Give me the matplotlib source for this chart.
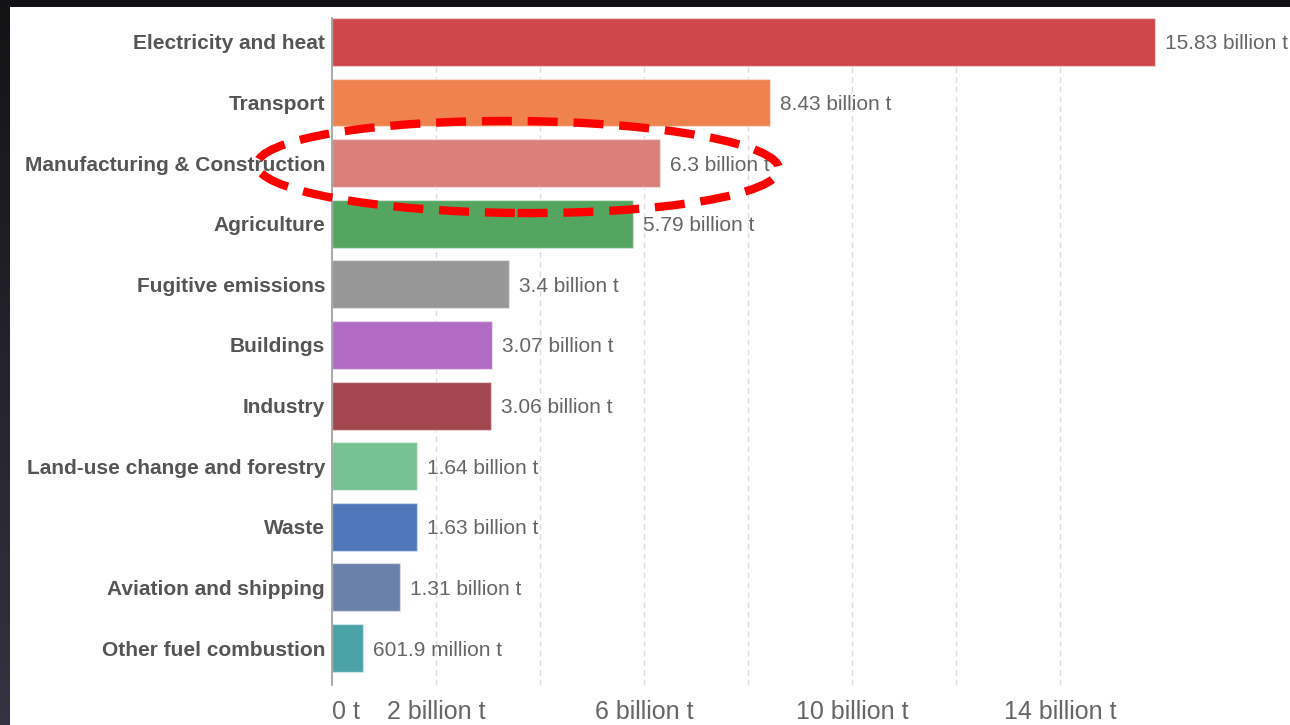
import matplotlib
matplotlib.use("Agg")
import matplotlib.pyplot as plt
import numpy as np
from matplotlib.patches import Ellipse
from matplotlib.colors import LinearSegmentedColormap
from matplotlib.transforms import offset_copy

plt.rcParams['font.family'] = ['Liberation Sans', 'DejaVu Sans']

categories = ["Electricity and heat", "Transport", "Manufacturing & Construction",
              "Agriculture", "Fugitive emissions", "Buildings", "Industry",
              "Land-use change and forestry", "Waste", "Aviation and shipping",
              "Other fuel combustion"]
values = [15.83, 8.43, 6.30, 5.79, 3.40, 3.07, 3.06, 1.64, 1.63, 1.31, 0.6019]
value_labels = ["15.83 billion t", "8.43 billion t", "6.3 billion t", "5.79 billion t",
                "3.4 billion t", "3.07 billion t", "3.06 billion t", "1.64 billion t",
                "1.63 billion t", "1.31 billion t", "601.9 million t"]
colors = ["#d0474b", "#ef824d", "#d9807b", "#53a55f", "#979797", "#b06bc4",
          "#a3474f", "#76c391", "#4e78b9", "#6b80ab", "#4aa3a7"]
tick_values = [0, 2, 4, 6, 8, 10, 12, 14]
tick_labels = ["0 t", "2 billion t", "", "6 billion t", "", "10 billion t", "", "14 billion t"]

W, H = 1290, 725
fig = plt.figure(figsize=(W / 100, H / 100), dpi=100)
fig.patch.set_facecolor("#121215")

# white panel (background axes)
bg = fig.add_axes([10 / W, 0, 1 - 10 / W, (H - 7) / H], zorder=-5)
bg.set_facecolor("white")
bg.set_xticks([]); bg.set_yticks([])
for s in bg.spines.values():
    s.set_visible(False)

# left dark gradient strip
gax = fig.add_axes([0, 0, 10 / W, (H - 7) / H], zorder=-5)
cmap = LinearSegmentedColormap.from_list("g", ["#141417", "#353241"])
gax.imshow(np.linspace(0, 1, 100).reshape(-1, 1), aspect="auto", cmap=cmap)
gax.axis("off")

left = 332 / W
xmax = 15.9
right = (332 + xmax * 52) / W
top = 1 - 18 / H
bottom = 1 - 685 / H
ax = fig.add_axes([left, bottom, right - left, top - bottom], zorder=1)
ax.set_facecolor("none")

bar_h = 0.79
y = np.arange(len(categories))
ax.barh(y, values, height=bar_h, color=colors, edgecolor=(1, 1, 1, 0.45),
        linewidth=1, zorder=2)
txt_tr = offset_copy(ax.transData, fig=fig, x=10, y=-2, units="dots")
for yi, v, lab in zip(y, values, value_labels):
    ax.text(v, yi, lab, va="center", ha="left", fontsize=15,
            color="#666666", zorder=3, clip_on=False, transform=txt_tr)

ax.set_xlim(0, xmax)
ax.set_ylim(10.61, -bar_h / 2)
ax.set_yticks(y)
ax.set_yticklabels(categories, fontsize=15, fontweight="bold", color="#555555")
ax.set_xticks(tick_values)
ax.set_xticklabels(tick_labels, fontsize=18, color="#666666")
ax.get_xticklabels()[0].set_horizontalalignment("left")
ax.tick_params(axis="both", length=0)
ax.tick_params(axis="y", pad=5)
ax.tick_params(axis="x", pad=11)
ax.grid(axis="x", color="#dddddd", linestyle=(0, (4, 3)), linewidth=1, zorder=1)
ax.set_axisbelow(True)
ax.xaxis.get_gridlines()[0].set_visible(False)
for s in ["top", "right", "bottom"]:
    ax.spines[s].set_visible(False)
ax.spines["left"].set_color("#999999")
ax.spines["left"].set_linewidth(1.2)
ax.spines["left"].set_zorder(4)

# red dashed highlight ellipse (pixel coordinates of the figure)
ell = Ellipse((518 / 100, (H - 167) / 100), 5.22, 0.92, angle=-0.5,
              transform=fig.dpi_scale_trans, fill=False, edgecolor="#ff0000",
              linewidth=6, linestyle=(0, (3.6, 1.9)), zorder=10)
fig.patches.append(ell)

fig.savefig("out.png", dpi=100, facecolor=fig.get_facecolor())
